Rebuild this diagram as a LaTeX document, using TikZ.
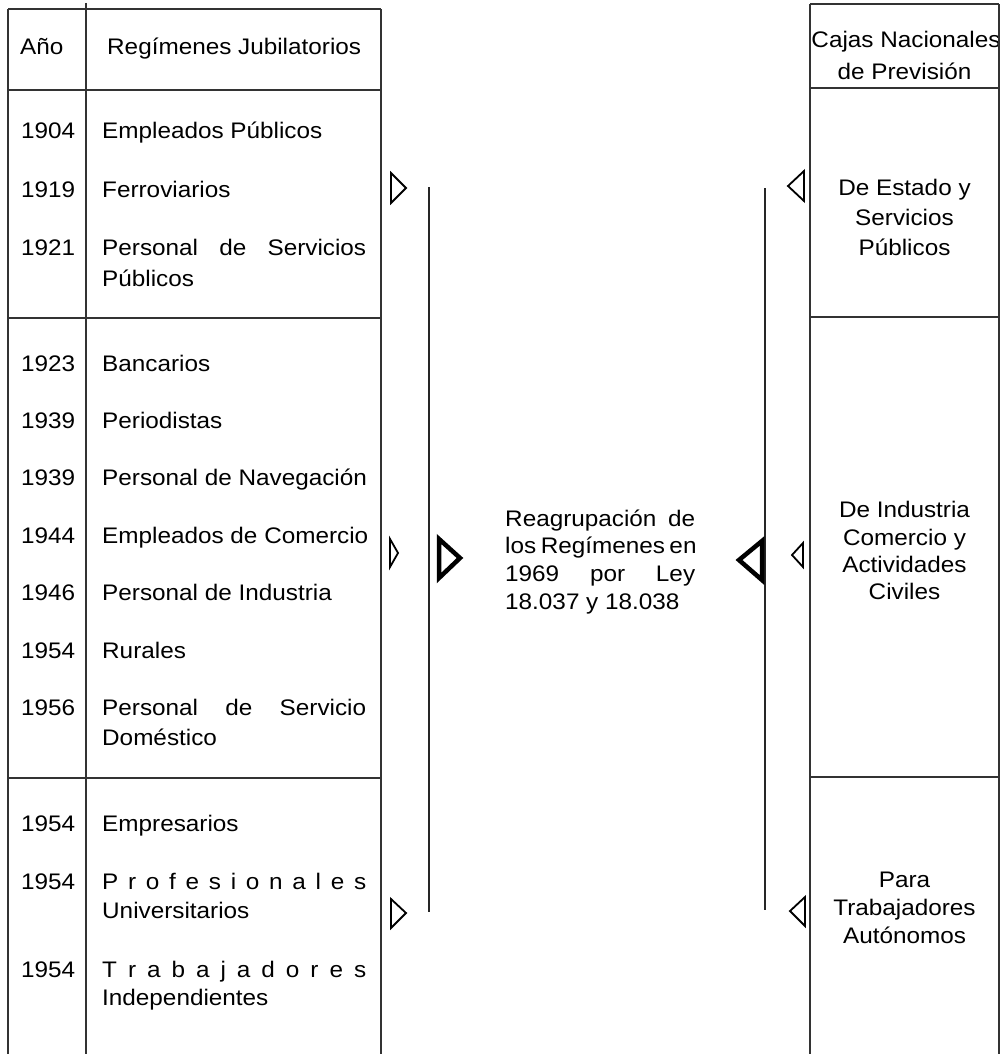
\documentclass[tikz,border=0pt]{standalone}
\usepackage{fontspec}
\setmainfont{Liberation Sans}[FakeStretch=1.08]
\newcommand\jline[1]{\makebox[264pt][s]{#1}}
\begin{document}
\begin{tikzpicture}[x=1pt,y=-1pt,
  every node/.style={inner sep=0pt, font=\fontsize{22.5}{27}\selectfont},
  gridline/.style={line width=1.8pt, draw=black!80},
  bar/.style={line width=2pt, draw=black!85},
  tri/.style={line width=1.8pt, line join=miter, draw=black, fill=white},
  bigtri/.style={line width=4.5pt, line join=miter, draw=black, fill=white},
  yr/.style={anchor=base west},
  lbl/.style={anchor=base west},
  ctr/.style={anchor=base}]
\useasboundingbox (0,0) rectangle (1003,1054);
\fill[white] (0,0) rectangle (1003,1054);

% ---------- left table text ----------
\node[yr] (hy) at (20,55) {Año};
\node[lbl] (hr) at (107,55) {Regímenes Jubilatorios};

\node[yr] (y1) at (21,139) {1904}; \node[lbl] (n1) at (102,139) {Empleados Públicos};
\node[yr] (y2) at (21,197) {1919}; \node[lbl] (n2) at (102,197) {Ferroviarios};
\node[yr] (y3) at (21,255) {1921}; \node[lbl] (n3) at (102,255) {\jline{Personal de Servicios}};
\node[lbl] (n3b) at (102,286) {Públicos};

\node[yr] (y4) at (21,371) {1923}; \node[lbl] (n4) at (102,371) {Bancarios};
\node[yr] (y5) at (21,428) {1939}; \node[lbl] (n5) at (102,428) {Periodistas};
\node[yr] (y6) at (21,485) {1939}; \node[lbl] (n6) at (102,485) {Personal de Navegación};
\node[yr] (y7) at (21,543) {1944}; \node[lbl] (n7) at (102,543) {Empleados de Comercio};
\node[yr] (y8) at (21,600) {1946}; \node[lbl] (n8) at (102,600) {Personal de Industria};
\node[yr] (y9) at (21,658) {1954}; \node[lbl] (n9) at (102,658) {Rurales};
\node[yr] (y10) at (21,715) {1956}; \node[lbl] (n10) at (102,715) {\jline{Personal de Servicio}};
\node[lbl] (n10b) at (102,745) {Doméstico};

\node[yr] (y11) at (21,831) {1954}; \node[lbl] (n11) at (102,831) {Empresarios};
\node[yr] (y12) at (21,889) {1954}; \node[lbl] (n12) at (102,889) {\jline{P r o f e s i o n a l e s}};
\node[lbl] (n12b) at (102,918) {Universitarios};
\node[yr] (y13) at (21,977) {1954}; \node[lbl] (n13) at (102,977) {\jline{T r a b a j a d o r e s}};
\node[lbl] (n13b) at (102,1005) {Independientes};

% ---------- centre text ----------
\node[lbl] (c1) at (505,526) {\makebox[190pt][s]{Reagrupación de}};
\node[lbl] (c2) at (505,553) {\makebox[190pt][s]{los Regímenes en}};
\node[lbl] (c3) at (505,581) {\makebox[190pt][s]{1969 por Ley}};
\node[lbl] (c4) at (505,609) {18.037 y 18.038};

% ---------- right table text ----------
\node[ctr] (rh1) at (906,48) {Cajas Nacionales};
\node[ctr] (rh2) at (904.5,80) {de Previsión};
\node[ctr] (r1a) at (904.5,195) {De Estado y};
\node[ctr] (r1b) at (904.5,225) {Servicios};
\node[ctr] (r1c) at (904.5,255) {Públicos};
\node[ctr] (r2a) at (904.5,517) {De Industria};
\node[ctr] (r2b) at (904.5,545) {Comercio y};
\node[ctr] (r2c) at (904.5,572) {Actividades};
\node[ctr] (r2d) at (904.5,599) {Civiles};
\node[ctr] (r3a) at (904.5,887) {Para};
\node[ctr] (r3b) at (904.5,915) {Trabajadores};
\node[ctr] (r3c) at (904.5,943) {Autónomos};

% ---------- left table lines ----------
\draw[gridline] (8,9) -- (381,9);
\draw[gridline] (8,90) -- (381,90);
\draw[gridline] (8,318) -- (381,318);
\draw[gridline] (8,778) -- (381,778);
\draw[gridline] (8,9) -- (8,1054);
\draw[gridline] (86,3) -- (86,1054);
\draw[gridline] (381,9) -- (381,1054);

% ---------- right table lines ----------
\draw[gridline] (810,4) -- (999,4);
\draw[gridline] (810,88) -- (999,88);
\draw[gridline] (810,317) -- (999,317);
\draw[gridline] (810,777) -- (999,777);
\draw[gridline] (810,4) -- (810,1054);
\draw[gridline] (999,4) -- (999,1054);

% ---------- vertical bars ----------
\coordinate (lbt) at (429,187); \coordinate (lbb) at (429,912);
\coordinate (rbt) at (765,188); \coordinate (rbb) at (765,910);
\draw[bar] (lbt) -- (lbb);
\draw[bar] (rbt) -- (rbb);

% ---------- triangles ----------
\draw[tri] (391,173) -- (406,188) -- (391,203) -- cycle;
\draw[tri] (390,539) -- (398,553) -- (390,567) -- cycle;
\draw[tri] (391,899) -- (406,913) -- (391,928) -- cycle;
\draw[bigtri] (439,539) -- (460,558) -- (439,578) -- cycle;

\draw[tri] (804,171) -- (788,186) -- (804,201) -- cycle;
\draw[tri] (803,543) -- (792,555) -- (803,567) -- cycle;
\draw[tri] (805,897) -- (790,911) -- (805,926) -- cycle;
\draw[bigtri] (762,541) -- (739,560) -- (762,580) -- cycle;
\end{tikzpicture}
\end{document}
